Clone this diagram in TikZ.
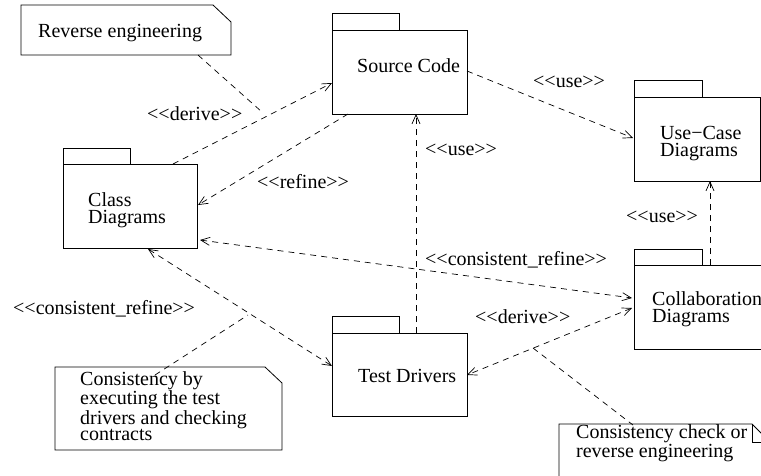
\documentclass[tikz,border=0pt]{standalone}
\usepackage{fontspec}
\setmainfont{Liberation Serif}
\usetikzlibrary{arrows.meta}
\begin{document}
\begin{tikzpicture}[x=1pt,y=-1pt,
  every node/.style={font=\fontsize{20}{17}\selectfont},
  pkg/.style={draw, line width=0.8pt, rectangle, inner sep=0pt, anchor=north west},
  tab/.style={line width=0.8pt},
  txt/.style={inner sep=0pt, anchor=base west, align=left},
  dep/.style={dash pattern=on 6pt off 5pt, line width=0.7pt, -{Straight Barb[length=9pt,width=8pt]}},
  dep2/.style={dash pattern=on 6pt off 5pt, line width=0.7pt, {Straight Barb[length=9pt,width=8pt]}-{Straight Barb[length=9pt,width=8pt]}},
  anc/.style={dash pattern=on 6pt off 5pt, line width=0.7pt},
  notebox/.style={line width=0.8pt}]
\clip (0,0) rectangle (761,475);
\fill[white] (0,0) rectangle (761,475);

% packages
\node[pkg, minimum width=135pt, minimum height=84pt] (src) at (332,30) {};
\draw[tab] (src.north west) rectangle ++(67,-17);
\node[txt] (srct) at (357,72) {Source Code};

\node[pkg, minimum width=134pt, minimum height=84pt] (cls) at (63,164) {};
\draw[tab] (cls.north west) rectangle ++(67,-16);
\node[txt] (clst) at (88,223) {Class\\Diagrams};

\node[pkg, minimum width=126pt, minimum height=84pt] (uc) at (634,97) {};
\draw[tab] (uc.north west) rectangle ++(68,-17);
\node[txt] (uct) at (660,156) {Use{\char"2212}Case\\Diagrams};

\node[pkg, minimum width=150pt, minimum height=84pt] (col) at (634,265) {};
\draw[tab] (col.north west) rectangle ++(68,-16);
\node[txt] (colt) at (652,322) {Collaboration\\Diagrams};

\node[pkg, minimum width=135pt, minimum height=83pt] (td) at (332,333) {};
\draw[tab] (td.north west) rectangle ++(67,-17);
\node[txt] (tdt) at (358,382) {Test Drivers};

% notes
\coordinate (n1) at (21,5);
\draw[notebox] (n1) -- ++(192,0) -- ++(18,17) -- ++(0,33) -- ++(-210,0) -- cycle;
\node[txt] (n1t) at (38,37) {Reverse engineering};

\coordinate (n2) at (55,367);
\draw[notebox] (n2) -- ++(210,0) -- ++(17,16) -- ++(0,67) -- ++(-227,0) -- cycle;
\node[txt, font=\fontsize{20}{16}\selectfont] (n2t) at (80,440) {Consistency by\\executing the test\\drivers and checking\\contracts};

\coordinate (n3) at (559,424);
\draw[notebox] (n3) -- ++(193,0) -- ++(18,18) -- ++(0,60) -- ++(-211,0) -- cycle;
\draw[notebox] (752,424) -- (752,442) -- (770,442);
\node[txt, font=\fontsize{20}{15.5}\selectfont] (n3t) at (576,457) {Consistency check or\\reverse engineering};

% dependencies
\coordinate (a1s) at (173,164);
\coordinate (a1e) at (332,83);
\draw[dep] (a1s) -- (a1e);
\node[txt] (l1) at (147,120) {<{}<derive>{}>};

\coordinate (a2s) at (348,114);
\coordinate (a2e) at (198,205);
\draw[dep] (a2s) -- (a2e);
\node[txt] (l2) at (257,188) {<{}<refine>{}>};

\coordinate (a3s) at (467,71);
\coordinate (a3e) at (633,138);
\draw[dep] (a3s) -- (a3e);
\node[txt] (l3) at (533,87) {<{}<use>{}>};

\coordinate (a4s) at (416,333);
\coordinate (a4e) at (416,114);
\draw[dep] (a4s) -- (a4e);
\node[txt] (l4) at (425,155) {<{}<use>{}>};

\coordinate (a5s) at (710,265);
\coordinate (a5e) at (710,181);
\draw[dep] (a5s) -- (a5e);
\node[txt] (l5) at (626,222) {<{}<use>{}>};

\coordinate (a6s) at (200,240);
\coordinate (a6e) at (632,298);
\draw[dep2] (a6s) -- (a6e);
\node[txt] (l6) at (425,265) {<{}<consistent\_refine>{}>};

\coordinate (a7s) at (148,249);
\coordinate (a7e) at (332,366);
\draw[dep2] (a7s) -- (a7e);
\node[txt] (l7) at (13,314) {<{}<consistent\_refine>{}>};

\coordinate (a8s) at (632,308);
\coordinate (a8e) at (467,375);
\draw[dep2] (a8s) -- (a8e);
\node[txt] (l8) at (475,323) {<{}<derive>{}>};

% note anchors
\coordinate (c1a) at (198,55);
\coordinate (c1b) at (262,112);
\draw[anc] (c1a) -- (c1b);
\coordinate (c2a) at (155,375);
\coordinate (c2b) at (248,315);
\draw[anc] (c2a) -- (c2b);
\coordinate (c3a) at (533,348);
\coordinate (c3b) at (633,425);
\draw[anc] (c3a) -- (c3b);
\end{tikzpicture}
\end{document}
